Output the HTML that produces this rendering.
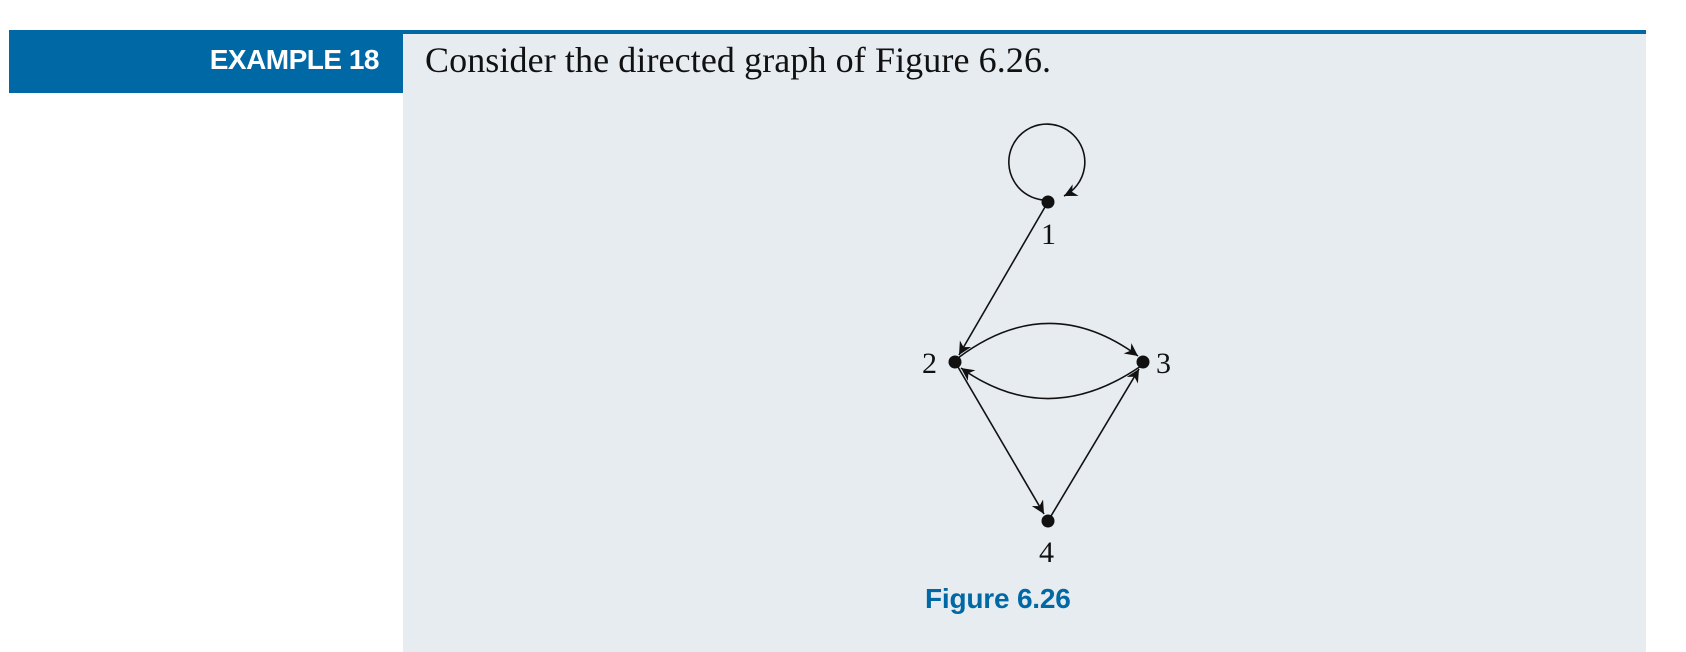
<!DOCTYPE html>
<html><head><meta charset="utf-8"><style>
html,body{margin:0;padding:0;background:#fff;}
body{width:1686px;height:652px;position:relative;overflow:hidden;}
.topline{position:absolute;left:9px;top:30px;width:1637px;height:4px;background:#0068a5;}
.hdr{position:absolute;left:9px;top:30px;width:394px;height:63px;background:#0068a5;}
.hdr span{position:absolute;right:24px;top:14px;color:#fff;font:bold 28px "Liberation Sans",sans-serif;letter-spacing:-0.5px;}
.panel{position:absolute;left:403px;top:34px;width:1243px;height:618px;background:#e7ecf1;}
.txt{position:absolute;left:425px;top:39px;font:36px "Liberation Serif",serif;color:#111;letter-spacing:0.1px;}
.cap{position:absolute;left:925px;top:583px;font:bold 28px "Liberation Sans",sans-serif;color:#0068a5;letter-spacing:-0.2px;}
svg{position:absolute;left:0;top:0;}
</style></head><body>
<div class="panel"></div>
<div class="topline"></div>
<div class="hdr"><span>EXAMPLE 18</span></div>
<div class="txt">Consider the directed graph of Figure 6.26.</div>
<svg width="1686" height="652">
<defs><marker id="a" viewBox="0 0 10 10" refX="10" refY="5" markerWidth="14" markerHeight="13" markerUnits="userSpaceOnUse" orient="auto"><path d="M0,0 L10,5 L0,10 L3,5 z" fill="#111"/></marker></defs>
<g fill="none" stroke="#111" stroke-width="1.6">
<path d="M1044,200 A38,38 0 1 1 1064,196" marker-end="url(#a)"/>
<path d="M1045,207 L959,355" marker-end="url(#a)"/>
<path d="M958,358 Q1048,290 1138,356" marker-end="url(#a)"/>
<path d="M1141,366 Q1048,430 961,368" marker-end="url(#a)"/>
<path d="M958,367 L1044,514" marker-end="url(#a)"/>
<path d="M1051,516 L1139,369" marker-end="url(#a)"/>
</g>
<g fill="#111">
<circle cx="1048" cy="202" r="6.5"/><circle cx="955" cy="362" r="6.5"/>
<circle cx="1143" cy="362" r="6.5"/><circle cx="1048" cy="521" r="6.5"/>
</g>
<g font-family="Liberation Serif,serif" font-size="30" fill="#111">
<text x="1041" y="244">1</text><text x="922" y="373">2</text>
<text x="1156" y="373">3</text><text x="1039" y="562">4</text>
</g>
</svg>
<div class="cap">Figure 6.26</div>
</body></html>
